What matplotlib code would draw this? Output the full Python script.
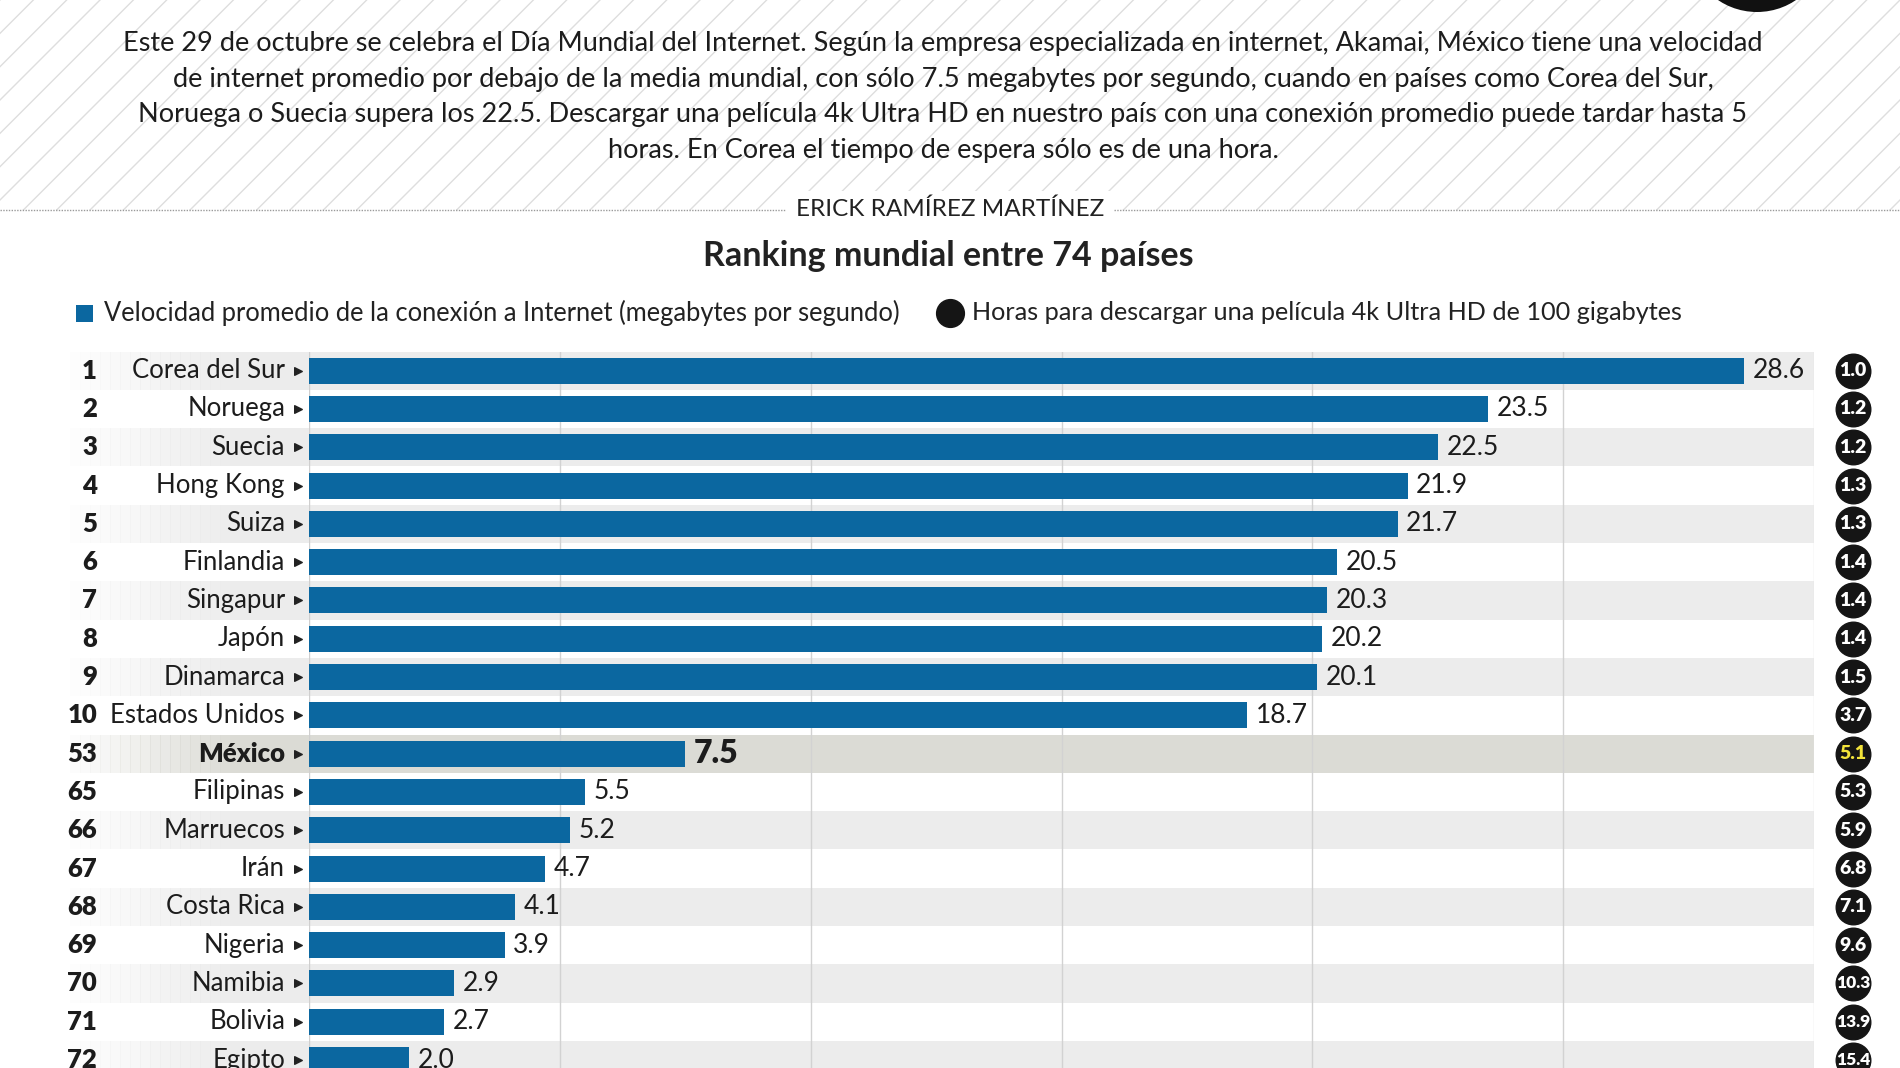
import matplotlib
matplotlib.use("Agg")
import matplotlib.pyplot as plt
import matplotlib.transforms as mtransforms
from matplotlib.patches import Rectangle, Ellipse
import numpy as np

plt.rcParams["font.family"] = ["Lato", "DejaVu Sans"]

# data
ranks = [1, 2, 3, 4, 5, 6, 7, 8, 9, 10, 53, 65, 66, 67, 68, 69, 70, 71, 72]
countries = ["Corea del Sur", "Noruega", "Suecia", "Hong Kong", "Suiza",
             "Finlandia", "Singapur", "Japón", "Dinamarca", "Estados Unidos",
             "México", "Filipinas", "Marruecos", "Irán", "Costa Rica",
             "Nigeria", "Namibia", "Bolivia", "Egipto"]
speed = [28.6, 23.5, 22.5, 21.9, 21.7, 20.5, 20.3, 20.2, 20.1, 18.7,
         7.5, 5.5, 5.2, 4.7, 4.1, 3.9, 2.9, 2.7, 2.0]
hours = [1.0, 1.2, 1.2, 1.3, 1.3, 1.4, 1.4, 1.4, 1.5, 3.7,
         5.1, 5.3, 5.9, 6.8, 7.1, 9.6, 10.3, 13.9, 15.4]
highlight = "México"

intro = [
    "Este 29 de octubre se celebra el Día Mundial del Internet. Según la empresa especializada en internet, Akamai, México tiene una velocidad",
    "de internet promedio por debajo de la media mundial, con sólo 7.5 megabytes por segundo, cuando en países como Corea del Sur,",
    "Noruega o Suecia supera los 22.5. Descargar una película 4k Ultra HD en nuestro país con una conexión promedio puede tardar hasta 5",
    "horas. En Corea el tiempo de espera sólo es de una hora.",
]
byline = "ERICK RAMÍREZ MARTÍNEZ"
title = "Ranking mundial entre 74 países"
legend_bar = "Velocidad promedio de la conexión a Internet (megabytes por segundo)"
legend_dot = "Horas para descargar una película 4k Ultra HD de 100 gigabytes"

BLUE = "#0b67a0"
INK = "#1c1c1c"
W, H = 1900, 1068
DY = 2.5  # small vertical nudge


def fx(px):
    return px / W


def fy(py):
    return 1 - py / H


fig = plt.figure(figsize=(19, 10.68), dpi=100)
fig.patch.set_facecolor("white")

# background axes in pixel coords for header decoration
bg = fig.add_axes([0, 0, 1, 1])
bg.set_xlim(0, W)
bg.set_ylim(H, 0)
bg.axis("off")
bg.add_patch(Rectangle((0, 0), W, 207 + DY, facecolor="white", edgecolor="#dedede",
                       hatch="/", lw=0, zorder=0))
bg.add_patch(Ellipse((1757, -52), 134, 128, facecolor="#111111", zorder=1))
for i, line in enumerate(intro):
    bg.text(943, 41 + DY + 35.7 * i, line, ha="center", va="center", fontsize=19.5,
            color=INK, zorder=2)
bg.plot([0, 786], [207 + DY, 207 + DY], color="#9a9a9a", lw=1, ls=(0, (1, 1)))
bg.plot([1114, W], [207 + DY, 207 + DY], color="#9a9a9a", lw=1, ls=(0, (1, 1)))
bg.text(950, 207 + DY, byline, ha="center", va="center", fontsize=17.5, color="#222222",
        bbox=dict(boxstyle="square,pad=0.3", fc="white", ec="none"))
bg.text(948, 253 + DY, title, ha="center", va="center", fontsize=24.5, fontweight="bold",
        color="#222222")

# legend
bg.add_patch(Rectangle((76, 302 + DY), 17, 17, facecolor=BLUE, edgecolor="none"))
bg.text(104, 310 + DY, legend_bar, ha="left", va="center", fontsize=18.4, color="#222222")
bg.scatter([950], [310 + DY], s=400, color="#151515", zorder=3)
bg.text(972, 310 + DY, legend_dot, ha="left", va="center", fontsize=18.2, color="#222222")

# main chart axes: rows -0.5..18.5, speed 0..30
top_px, row_px = 349.0 + DY, 38.3
n = len(countries)
bottom_px = top_px + row_px * n
ax = fig.add_axes([fx(309), fy(bottom_px), fx(1814) - fx(309), (bottom_px - top_px) / H])
ax.set_xlim(0, 30)
ax.set_ylim(n - 0.5, -0.5)
ax.patch.set_alpha(0)
for s in ax.spines.values():
    s.set_visible(False)
ax.set_xticks([])
ax.set_yticks([])

tr = mtransforms.blended_transform_factory(fig.transFigure, ax.transData)
y = np.arange(n)

# alternating row bands with fade at the left
for i in range(n):
    if countries[i] == highlight:
        col = "#dbdbd5"
    elif i % 2 == 0:
        col = "#ececec"
    else:
        continue
    ax.add_patch(Rectangle((fx(240), i - 0.5), fx(1814) - fx(240), 1.0, transform=tr,
                           facecolor=col, edgecolor="none", zorder=0, clip_on=False))
    steps = np.linspace(70, 240, 18)
    for k in range(len(steps) - 1):
        ax.add_patch(Rectangle((fx(steps[k]), i - 0.5), fx(steps[k + 1] - steps[k]) + 0.0003,
                               1.0, transform=tr, facecolor=col, edgecolor="none",
                               alpha=(k + 1) / (len(steps) - 1), zorder=0, clip_on=False))

for gx in [5, 10, 15, 20, 25]:
    ax.axvline(gx, color="#d2d2d2", lw=1, zorder=1)
ax.axvline(0, color="#cfcfcf", lw=1, zorder=1)
ax.axvline(30, color="#e4e4e4", lw=1, zorder=1)

ax.barh(y, speed, height=0.68, color=BLUE, zorder=2)

for i in range(n):
    hl = countries[i] == highlight
    ax.text(fx(97), i, str(ranks[i]), transform=tr, ha="right", va="center",
            fontsize=18.5, fontweight="heavy", color=INK)
    ax.text(fx(285), i, countries[i], transform=tr, ha="right", va="center",
            fontsize=18.5, fontweight="heavy" if hl else "normal", color=INK)
    ax.text(speed[i] + 0.17, i, f"{speed[i]:.1f}", ha="left", va="center",
            fontsize=23 if hl else 19, fontweight="heavy" if hl else "normal",
            color=INK, zorder=3)
    ax.text(fx(1853), i, f"{hours[i]:.1f}", transform=tr, ha="center", va="center",
            fontsize=14 if hours[i] < 10 else 12.5, fontweight="heavy",
            color="#f2e33a" if hl else "white", zorder=4, clip_on=False)

ax.scatter(np.full(n, fx(298)), y, transform=tr, marker=">", s=30,
           color="#222222", clip_on=False, zorder=3)
ax.scatter(np.full(n, fx(1853)), y, transform=tr, s=620, color="#151515",
           clip_on=False, zorder=3)

fig.savefig("out.png", dpi=100)
